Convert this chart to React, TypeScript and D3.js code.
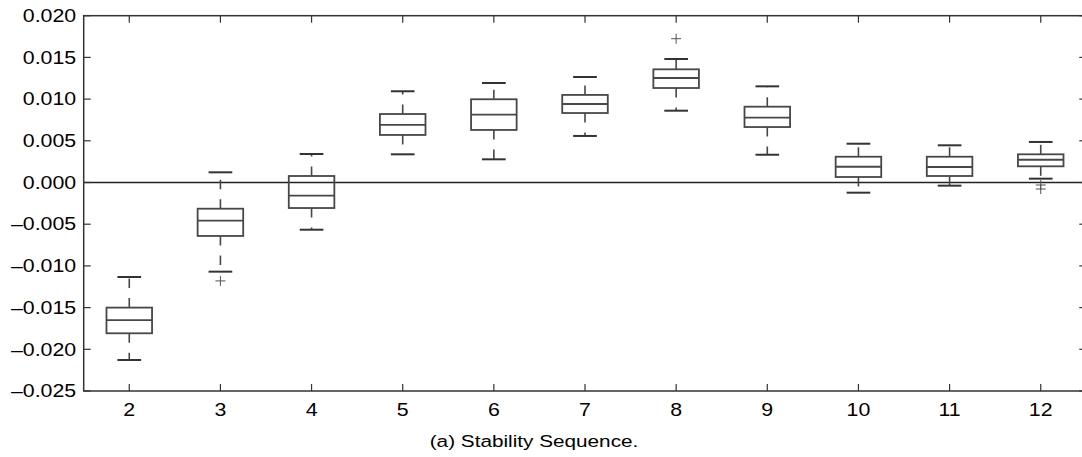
import React from 'react';
import * as d3 from 'd3';

const categories = [2, 3, 4, 5, 6, 7, 8, 9, 10, 11, 12];
const whiskerHigh = [-0.01133, 0.00122, 0.00342, 0.01094, 0.01193, 0.01265, 0.01481, 0.01153, 0.00465, 0.00446, 0.00486];
const q3 = [-0.0150, -0.00314, 0.00078, 0.00821, 0.00998, 0.0105, 0.01357, 0.00909, 0.00309, 0.00309, 0.00338];
const median = [-0.01649, -0.00458, -0.00158, 0.0069, 0.00813, 0.00941, 0.01253, 0.00777, 0.00189, 0.00186, 0.00273];
const q1 = [-0.01808, -0.00641, -0.00306, 0.0057, 0.0063, 0.00833, 0.01133, 0.00665, 0.00066, 0.00078, 0.00194];
const whiskerLow = [-0.02128, -0.01069, -0.00566, 0.00338, 0.00278, 0.00558, 0.00861, 0.00333, -0.00122, -0.00038, 0.00046];
const outliers: number[][] = [[], [-0.0118], [], [], [], [], [0.01724], [], [], [], [-0.0003, -0.00078]];
const yTicks = [-0.025, -0.02, -0.015, -0.01, -0.005, 0, 0.005, 0.01, 0.015, 0.02];
const caption = '(a) Stability Sequence.';

export default function App() {
  const width = 1082;
  const height = 457;
  const left = 83.7;
  const right = 1086.3;
  const top = 15.7;
  const bottom = 391;

  const x = d3.scaleLinear().domain([1.5, 12.5]).range([left, right]);
  const y = d3.scaleLinear().domain([-0.025, 0.02]).range([bottom, top]);

  const unit = x(1) - x(0);
  const boxHalf = unit * 0.25;
  const capHalf = unit * 0.13;
  const tickLen = 7;
  const font = '"Liberation Sans", Arial, Helvetica, sans-serif';
  const stretch = 'scale(1.22,1)';
  const boxColor = '#474747';
  const axisColor = '#333';

  // long minus like the reference
  const fmt = (v: number) => {
    const s = Math.abs(v).toFixed(3);
    return v < 0 ? '\u2013' + s : s;
  };

  return (
    <svg width={width} height={height} style={{ position: 'absolute', left: 0, top: 0, background: '#fff' }}>
      {/* zero line */}
      <line x1={left} x2={right} y1={y(0)} y2={y(0)} stroke="#222" strokeWidth={1.6} />

      {categories.map((c, i) => {
        const cx = x(c);
        return (
          <g key={c} stroke={boxColor} fill="none">
            <line x1={cx} x2={cx} y1={y(q3[i])} y2={y(whiskerHigh[i])} strokeWidth={1.6} strokeDasharray="9.5,10" />
            <line x1={cx} x2={cx} y1={y(q1[i])} y2={y(whiskerLow[i])} strokeWidth={1.6} strokeDasharray="9.5,10" />
            <line x1={cx - capHalf} x2={cx + capHalf} y1={y(whiskerHigh[i])} y2={y(whiskerHigh[i])} strokeWidth={2} stroke="#333" />
            <line x1={cx - capHalf} x2={cx + capHalf} y1={y(whiskerLow[i])} y2={y(whiskerLow[i])} strokeWidth={2} stroke="#333" />
            <rect x={cx - boxHalf} y={y(q3[i])} width={boxHalf * 2} height={y(q1[i]) - y(q3[i])} strokeWidth={1.8} />
            <line x1={cx - boxHalf} x2={cx + boxHalf} y1={y(median[i])} y2={y(median[i])} strokeWidth={1.8} />
            {outliers[i].map((o, k) => (
              <g key={k} stroke="#555" strokeWidth={1}>
                <line x1={cx - 5} x2={cx + 5} y1={y(o)} y2={y(o)} />
                <line x1={cx} x2={cx} y1={y(o) - 5} y2={y(o) + 5} />
              </g>
            ))}
          </g>
        );
      })}

      {/* frame */}
      <rect x={left} y={top} width={right - left} height={bottom - top} fill="none" stroke={axisColor} strokeWidth={1.5} />

      {/* y ticks, both sides */}
      {yTicks.map(t => (
        <g key={t}>
          <line x1={left} x2={left + tickLen} y1={y(t)} y2={y(t)} stroke={axisColor} strokeWidth={1.2} />
          <line x1={right - tickLen} x2={right} y1={y(t)} y2={y(t)} stroke={axisColor} strokeWidth={1.2} />
          <text
            transform={`translate(${left - 7.5},${y(t) + 6.2}) ${stretch}`}
            textAnchor="end"
            fontSize={17.5}
            fontFamily={font}
            fill="#000"
          >
            {fmt(t)}
          </text>
        </g>
      ))}

      {/* x ticks, top and bottom */}
      {categories.map(c => (
        <g key={c}>
          <line x1={x(c)} x2={x(c)} y1={bottom} y2={bottom - tickLen} stroke={axisColor} strokeWidth={1.2} />
          <line x1={x(c)} x2={x(c)} y1={top} y2={top + tickLen} stroke={axisColor} strokeWidth={1.2} />
          <text
            transform={`translate(${x(c)},${bottom + 24.5}) ${stretch}`}
            textAnchor="middle"
            fontSize={17.5}
            fontFamily={font}
            fill="#000"
          >
            {c}
          </text>
        </g>
      ))}

      <text
        transform={`translate(534,${bottom + 56}) ${stretch}`}
        textAnchor="middle"
        fontSize={17}
        fontFamily={font}
        fill="#000"
      >
        {caption}
      </text>
    </svg>
  );
}
